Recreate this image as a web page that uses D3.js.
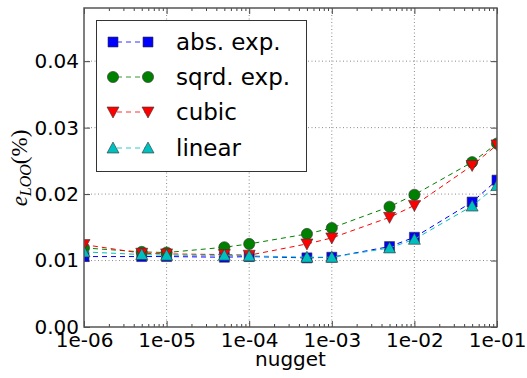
<!DOCTYPE html>
<html>
<head>
<meta charset="utf-8">
<script src="https://cdn.jsdelivr.net/npm/d3@7"></script>
<style>
  html, body { margin: 0; padding: 0; background: #fff; }
  svg { display: block; }
</style>
</head>
<body>
<svg id="chart" width="527" height="378"></svg>
<script>
// Leave-one-out error versus nugget value for four covariance kernels
const nugget = [1e-6, 5e-6, 1e-5, 5e-5, 1e-4, 5e-4, 1e-3, 5e-3, 1e-2, 5e-2, 1e-1];
const absExp  = [0.0106, 0.0106, 0.0106, 0.0105, 0.0106, 0.0104, 0.0105, 0.0121, 0.0135, 0.0188, 0.0221];
const sqrdExp = [0.0119, 0.0113, 0.0112, 0.0120, 0.0125, 0.0140, 0.0149, 0.0181, 0.0199, 0.0248, 0.0276];
const cubic   = [0.0124, 0.0111, 0.0110, 0.0109, 0.0108, 0.0125, 0.0134, 0.0165, 0.0183, 0.0243, 0.0274];
const linear  = [0.0113, 0.0109, 0.0108, 0.0108, 0.0107, 0.0105, 0.0105, 0.0119, 0.0132, 0.0182, 0.0213];
const seriesNames = ["abs. exp.", "sqrd. exp.", "cubic", "linear"];
const xTickValues = [1e-6, 1e-5, 1e-4, 1e-3, 1e-2, 1e-1];
const yTickValues = [0.00, 0.01, 0.02, 0.03, 0.04];

const series = [
  { name: seriesNames[0], values: absExp,  color: "#0000ff", marker: "square" },
  { name: seriesNames[1], values: sqrdExp, color: "#008000", marker: "circle" },
  { name: seriesNames[2], values: cubic,   color: "#ff0000", marker: "tridown" },
  { name: seriesNames[3], values: linear,  color: "#00bfbf", marker: "triup" }
];

const svg = d3.select("#chart");
const m = { left: 84, right: 497, top: 8, bottom: 327 };

const x = d3.scaleLog().domain([1e-6, 1e-1]).range([m.left, m.right]);
const y = d3.scaleLinear().domain([0, 0.048]).range([m.bottom, m.top]);

const font = "'DejaVu Sans', sans-serif";

// clip for the plotting area
svg.append("defs").append("clipPath").attr("id", "plotClip")
  .append("rect")
  .attr("x", m.left).attr("y", m.top)
  .attr("width", m.right - m.left).attr("height", m.bottom - m.top);

// grid
const grid = svg.append("g");
grid.selectAll("line.gx").data(xTickValues.slice(1, -1)).join("line")
  .attr("x1", d => x(d)).attr("x2", d => x(d))
  .attr("y1", m.top).attr("y2", m.bottom)
  .attr("stroke", "#8a8a8a").attr("stroke-width", 1).attr("stroke-dasharray", "1,2.5");
grid.selectAll("line.gy").data(yTickValues.slice(1)).join("line")
  .attr("x1", m.left).attr("x2", m.right)
  .attr("y1", d => y(d)).attr("y2", d => y(d))
  .attr("stroke", "#8a8a8a").attr("stroke-width", 1).attr("stroke-dasharray", "1,2.5");

// axes: ticks pointing inwards, on all four sides
const minor = [];
for (let e = -6; e < -1; e++) for (let k = 2; k <= 9; k++) minor.push(k * Math.pow(10, e));

const tickColor = "#444";
const xAxisB = d3.axisBottom(x).tickValues(xTickValues).tickSizeInner(-6).tickSizeOuter(0)
  .tickPadding(6).tickFormat(d => d.toExponential(0).replace(/e-(\d)$/, "e-0$1"));
const gxb = svg.append("g").attr("transform", `translate(0,${m.bottom})`).call(xAxisB);
gxb.select(".domain").remove();
gxb.selectAll("line").attr("stroke", tickColor);
gxb.selectAll("text").attr("font-family", font).attr("font-size", 20).attr("fill", "#000");

const xAxisT = d3.axisTop(x).tickValues(xTickValues).tickSizeInner(-6).tickSizeOuter(0).tickFormat("");
const gxt = svg.append("g").attr("transform", `translate(0,${m.top})`).call(xAxisT);
gxt.select(".domain").remove();
gxt.selectAll("line").attr("stroke", tickColor);

const minorB = d3.axisBottom(x).tickValues(minor).tickSizeInner(-3).tickSizeOuter(0).tickFormat("");
const gmb = svg.append("g").attr("transform", `translate(0,${m.bottom})`).call(minorB);
gmb.select(".domain").remove();
gmb.selectAll("line").attr("stroke", tickColor);
const minorT = d3.axisTop(x).tickValues(minor).tickSizeInner(-3).tickSizeOuter(0).tickFormat("");
const gmt = svg.append("g").attr("transform", `translate(0,${m.top})`).call(minorT);
gmt.select(".domain").remove();
gmt.selectAll("line").attr("stroke", tickColor);

const yAxisL = d3.axisLeft(y).tickValues(yTickValues).tickSizeInner(-6).tickSizeOuter(0)
  .tickPadding(5).tickFormat(d3.format(".2f"));
const gyl = svg.append("g").attr("transform", `translate(${m.left},0)`).call(yAxisL);
gyl.select(".domain").remove();
gyl.selectAll("line").attr("stroke", tickColor);
gyl.selectAll("text").attr("font-family", font).attr("font-size", 20).attr("fill", "#000");

const yAxisR = d3.axisRight(y).tickValues(yTickValues).tickSizeInner(-6).tickSizeOuter(0).tickFormat("");
const gyr = svg.append("g").attr("transform", `translate(${m.right},0)`).call(yAxisR);
gyr.select(".domain").remove();
gyr.selectAll("line").attr("stroke", tickColor);

// marker shapes
function markerPath(kind) {
  if (kind === "square") return d3.symbol(d3.symbolSquare, 100)();
  if (kind === "circle") return d3.symbol(d3.symbolCircle, 98)();
  if (kind === "tridown") return "M-6,-5L6,-5L0,6Z";
  return "M-6,5L6,5L0,-6Z";
}

// series
const plot = svg.append("g").attr("clip-path", "url(#plotClip)");
const line = d3.line().x((d, i) => x(nugget[i])).y(d => y(d));
series.forEach(s => {
  const g = plot.append("g");
  g.append("path").attr("d", line(s.values))
    .attr("fill", "none").attr("stroke", s.color).attr("stroke-width", 1)
    .attr("stroke-dasharray", "5,4");
  g.selectAll("path.mk").data(s.values).join("path").attr("class", "mk")
    .attr("d", markerPath(s.marker))
    .attr("transform", (d, i) => `translate(${x(nugget[i])},${y(d)})`)
    .attr("fill", s.color).attr("stroke", "#333").attr("stroke-width", 0.6);
});

// frame
svg.append("rect")
  .attr("x", m.left).attr("y", m.top)
  .attr("width", m.right - m.left).attr("height", m.bottom - m.top)
  .attr("fill", "none").attr("stroke", "#555").attr("stroke-width", 1.5);

// legend
const lg = svg.append("g");
lg.append("rect").attr("x", 96.5).attr("y", 20.5).attr("width", 210).attr("height", 151)
  .attr("fill", "#fff").attr("stroke", "#333").attr("stroke-width", 1);
const rows = [42, 77, 112, 148];
series.forEach((s, i) => {
  const ry = rows[i];
  lg.append("line").attr("x1", 113).attr("x2", 148).attr("y1", ry).attr("y2", ry)
    .attr("stroke", s.color).attr("stroke-width", 1).attr("stroke-dasharray", "5,4")
    .attr("stroke-dashoffset", -4).attr("opacity", 0.8);
  [113, 148].forEach(mx => {
    lg.append("path").attr("d", markerPath(s.marker))
      .attr("transform", `translate(${mx},${ry})`)
      .attr("fill", s.color).attr("stroke", "#333").attr("stroke-width", 0.6);
  });
  lg.append("text").attr("x", 176).attr("y", ry + 8)
    .attr("font-family", font).attr("font-size", 23).attr("fill", "#000")
    .text(s.name);
});

// axis titles
svg.append("text").attr("x", (m.left + m.right) / 2).attr("y", 366)
  .attr("text-anchor", "middle").attr("font-family", font).attr("font-size", 20)
  .text("nugget");

const yl = svg.append("text")
  .attr("transform", "translate(27,168) rotate(-90)")
  .attr("text-anchor", "middle")
  .attr("font-family", "'Liberation Serif', 'DejaVu Serif', serif").attr("font-size", 23);
yl.append("tspan").attr("font-style", "italic").text("e");
yl.append("tspan").attr("font-style", "italic").attr("font-size", 16).attr("dy", 4).text("LOO");
yl.append("tspan").attr("dy", -4).text("(%)");
</script>
</body>
</html>
